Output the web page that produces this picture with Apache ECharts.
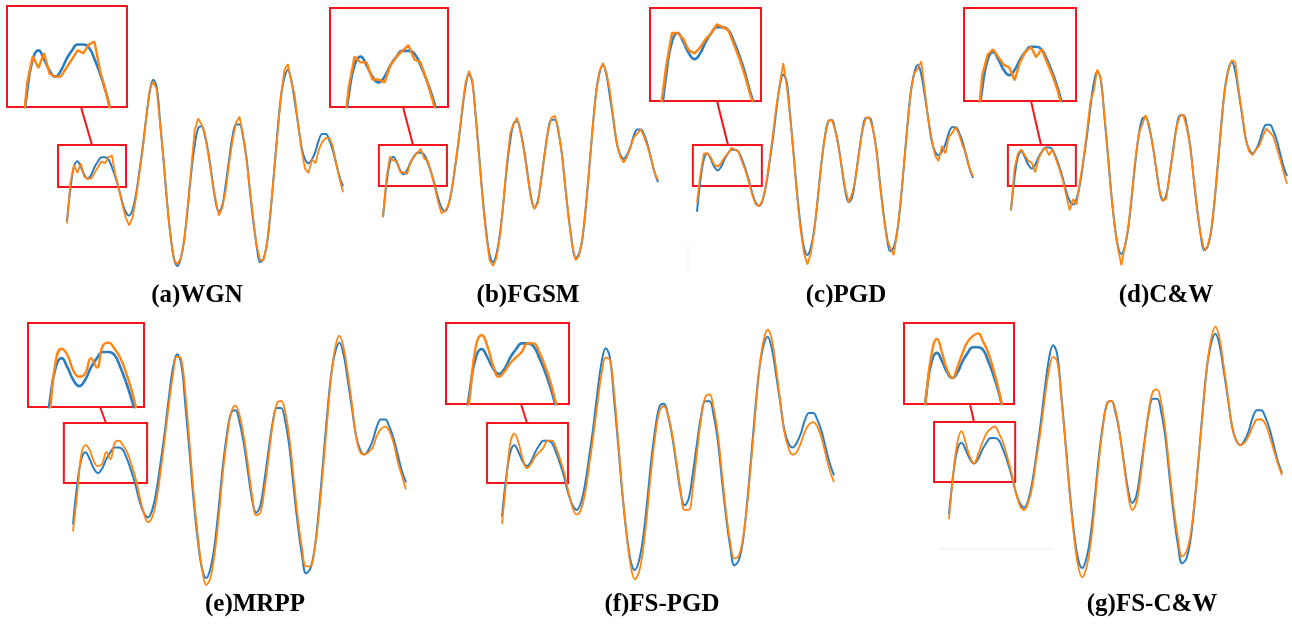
<!DOCTYPE html>
<html>
<head>
<meta charset="utf-8">
<script src="https://cdn.jsdelivr.net/npm/echarts@6/dist/echarts.min.js"></script>
<style>
  html, body { margin: 0; padding: 0; background: #fff; }
  #main { width: 1292px; height: 625px; }
</style>
</head>
<body>
<div id="main"></div>
<script>
// 原始信号（蓝），81个采样点
var original = [25,42,53,56,53,49,47,49,53,56, 58,58,57,53,48,42,35,30,28,31,
  39,51,64,79,92,98,94,76,56,35, 18,6,2,6,16,32,50,64,73,74,
  69,60,48,36,30,33,44,57,69,75, 75,69,58,41,25,12,4,6,14,30,
  50,71,89,99,103,98,87,75,63,57, 55,57,61,67,70,70,67,62,55,48, 43];

// 各方法生成的对抗样本（橙）
var advWGN = [24,45,54,50,55,48,47,47,50,53, 56,55,58,59,49,42,34,27,23,27,
  37,50,63,79,93,97,93,75,57,35, 17,5,3,6,15,33,52,72,78,75,
  70,59,47,37,28,32,41,55,67,76, 79,70,57,42,26,12,5,5,14,30,
  50,70,89,103,106,97,90,75,62,52, 50,57,55,62,66,68,68,64,55,47, 40];
var advFGSM = [25,45,56,54,54,48,48,47,53,56, 58,60,55,54,48,41,33,27,28,31,
  39,51,65,80,94,100,95,76,55,34, 16,3,0,4,15,32,52,68,73,76,
  69,59,47,35,29,32,44,57,69,76, 77,70,58,41,25,11,3,5,14,30,
  50,71,89,100,104,99,90,76,63,56, 53,56,61,66,68,70,66,61,55,48, 44];
var advPGD = [30,45,56,56,54,50,49,51,54,56, 59,58,57,52,47,41,34,29,28,31,
  39,52,66,81,93,104,92,76,55,34, 16,3,-3,3,15,32,50,64,73,74,
  69,60,48,37,30,35,43,57,69,75, 75,69,58,40,24,11,6,2,14,30,
  50,71,89,99,101,105,90,74,64,55, 52,60,56,65,67,70,66,60,56,48, 44];
var advCW = [25,47,55,57,54,51,50,45,52,56, 58,54,57,52,47,41,33,25,31,28,
  40,52,66,82,88,99,95,77,56,35, 17,5,-4,6,16,33,51,65,70,75,
  70,60,48,36,30,31,44,56,69,75, 75,68,58,41,25,12,4,6,14,30,
  50,71,89,99,104,103,88,76,63,56, 54,57,59,64,68,66,64,58,52,45, 39];
var advMRPP = [22,38,55,59,57,52,50,51,56,53, 60,61,59,56,51,45,37,30,26,28,
  35,47,61,76,89,97,96,81,60,38, 20,6,-1,2,12,28,47,62,73,76,
  72,63,51,38,29,30,40,54,68,77, 78,73,62,45,28,15,7,7,14,28,
  47,68,88,101,106,101,90,77,63,56, 55,56,58,63,66,67,65,60,52,46, 40];
var advFSPGD = [22,40,57,61,57,50,46,48,51,53, 55,58,58,55,50,44,36,29,26,28,
  35,47,60,74,87,94,93,79,58,36, 18,4,-2,1,11,27,46,61,71,73,
  69,61,49,37,28,28,38,53,68,77, 78,72,61,44,27,14,7,8,15,29,
  48,69,89,101,106,102,90,76,62,55, 52,53,57,62,65,66,64,59,52,45, 40];
var advFSCW = [23,42,56,61,56,50,47,51,56,60, 62,63,60,56,50,43,35,29,27,30,
  37,49,61,75,87,93,91,75,55,34, 16,3,-2,2,12,29,48,63,73,74,
  70,60,47,34,27,30,41,56,70,78, 79,73,61,44,28,15,7,9,16,31,
  50,70,89,101,106,101,89,76,63,57, 55,56,59,63,66,66,64,59,53,47, 42];

var panelNames = ['(a)WGN', '(b)FGSM', '(c)PGD', '(d)C&W', '(e)MRPP', '(f)FS-PGD', '(g)FS-C&W'];
var advList = [advWGN, advFGSM, advPGD, advCW, advMRPP, advFSPGD, advFSCW];
var noisy = [true, true, true, true, false, false, false];

// 主图上的小框：[起点, 终点, 下限, 上限]
var zoomWin = [
  [-2.6, 17.1, 42.7, 64.4],
  [-1.2, 18.6, 41, 62],
  [-1.2, 18.8, 38.7, 60.5],
  [-0.9, 18.8, 37.8, 59.4],
  [-2.2, 17.8, 42.8, 68.5],
  [-3.6, 15.9, 39.7, 65.6],
  [-3.6, 15.9, 39.1, 64.9]
];
// 放大图显示的范围
var insetWin = [
  [-2.6, 18.8, 36.6, 71.2],
  [-2.1, 17.6, 38.4, 73],
  [-1.9, 17.8, 32.6, 64.6],
  [-2.4, 18.4, 37, 73],
  [-2.7, 17, 40.3, 67.3],
  [-3.2, 18.2, 36.3, 65.3],
  [-3.4, 18, 37.7, 66.7]
];

// 版面位置（像素）
var layout = [
  {x0: 67,   x1: 343,  yB: 266, s: 1.94, box: [7, 6, 120, 101],   link: [81, 107, 92, 145],   label: [197, 296]},
  {x0: 383,  x1: 658,  yB: 262, s: 1.95, box: [330, 8, 118, 99],  link: [403, 107, 413, 145], label: [528, 296]},
  {x0: 697,  x1: 973,  yB: 255, s: 1.88, box: [650, 8, 111, 93],  link: [717, 101, 728, 145], label: [846, 296]},
  {x0: 1011, x1: 1287, yB: 254, s: 1.9,  box: [964, 8, 112, 93],  link: [1031, 101, 1041, 145], label: [1166, 296]},
  {x0: 73,   x1: 406,  yB: 578, s: 2.33, box: [28, 323, 116, 84], link: [100, 407, 106, 423], label: [255, 605]},
  {x0: 502,  x1: 834,  yB: 570, s: 2.31, box: [446, 323, 123, 81], link: [521, 404, 527, 423], label: [662, 605]},
  {x0: 949,  x1: 1282, yB: 568, s: 2.32, box: [904, 323, 110, 81], link: [970, 404, 974, 422], label: [1152, 605]}
];

var RED = '#f5141c';
var BLUE = '#2a7dbf';
var ORANGE = '#ff8412';

function pairs(arr) {
  return arr.map(function (v, i) { return [i, v]; });
}

var grids = [], xAxes = [], yAxes = [], series = [], graphics = [];

layout.forEach(function (p, k) {
  var sx = (p.x1 - p.x0) / 80;
  var w = zoomWin[k], iw = insetWin[k];
  var g0 = 2 * k, g1 = 2 * k + 1;

  grids.push({left: p.x0 - 5 * sx, width: 90 * sx, top: p.yB - 113 * p.s, height: 125 * p.s, outerBoundsMode: 'none'});
  grids.push({left: p.box[0], top: p.box[1], width: p.box[2], height: p.box[3], show: true,
    backgroundColor: 'transparent', borderColor: RED, borderWidth: 2, outerBoundsMode: 'none'});

  xAxes.push({gridIndex: g0, type: 'value', min: -5, max: 85, show: false});
  yAxes.push({gridIndex: g0, type: 'value', min: -10, max: 115, show: false});
  xAxes.push({gridIndex: g1, type: 'value', min: iw[0], max: iw[1], show: false});
  yAxes.push({gridIndex: g1, type: 'value', min: iw[2], max: iw[3], show: false});

  series.push({
    type: 'line', xAxisIndex: g0, yAxisIndex: g0, data: pairs(original),
    symbol: 'none', smooth: 0.4, lineStyle: {color: BLUE, width: 2},
    markArea: {
      silent: true,
      itemStyle: {color: 'rgba(0,0,0,0)', borderColor: RED, borderWidth: 2},
      data: [[{coord: [w[0], w[3]]}, {coord: [w[1], w[2]]}]]
    }
  });
  series.push({
    type: 'line', xAxisIndex: g0, yAxisIndex: g0, data: pairs(advList[k]),
    symbol: 'none', smooth: noisy[k] ? false : 0.4, lineStyle: {color: ORANGE, width: 1.8}
  });
  // 放大图
  series.push({
    type: 'line', xAxisIndex: g1, yAxisIndex: g1, data: pairs(original),
    symbol: 'none', smooth: 0.5, clip: true, lineStyle: {color: BLUE, width: 2.6}
  });
  series.push({
    type: 'line', xAxisIndex: g1, yAxisIndex: g1, data: pairs(advList[k]),
    symbol: 'none', smooth: noisy[k] ? false : 0.5, clip: true, lineStyle: {color: ORANGE, width: 2.4}
  });

  graphics.push({
    type: 'line', silent: true,
    shape: {x1: p.link[0], y1: p.link[1], x2: p.link[2], y2: p.link[3]},
    style: {stroke: RED, lineWidth: 2}
  });
  graphics.push({
    type: 'text', silent: true, x: p.label[0], y: p.label[1],
    style: {text: panelNames[k], fill: '#000', font: 'bold 25px "Liberation Serif", "Times New Roman", serif',
      align: 'center', verticalAlign: 'middle'}
  });
});

// 原图中的浅灰残留线
graphics.push({type: 'line', silent: true, shape: {x1: 938, y1: 549, x2: 1052, y2: 549}, style: {stroke: '#ececec', lineWidth: 1}});
graphics.push({type: 'line', silent: true, shape: {x1: 688, y1: 245, x2: 688, y2: 272}, style: {stroke: '#ececec', lineWidth: 1}});

var chart = echarts.init(document.getElementById('main'));
chart.setOption({
  animation: false,
  backgroundColor: '#fff',
  grid: grids,
  xAxis: xAxes,
  yAxis: yAxes,
  series: series,
  graphic: graphics
});
</script>
</body>
</html>
